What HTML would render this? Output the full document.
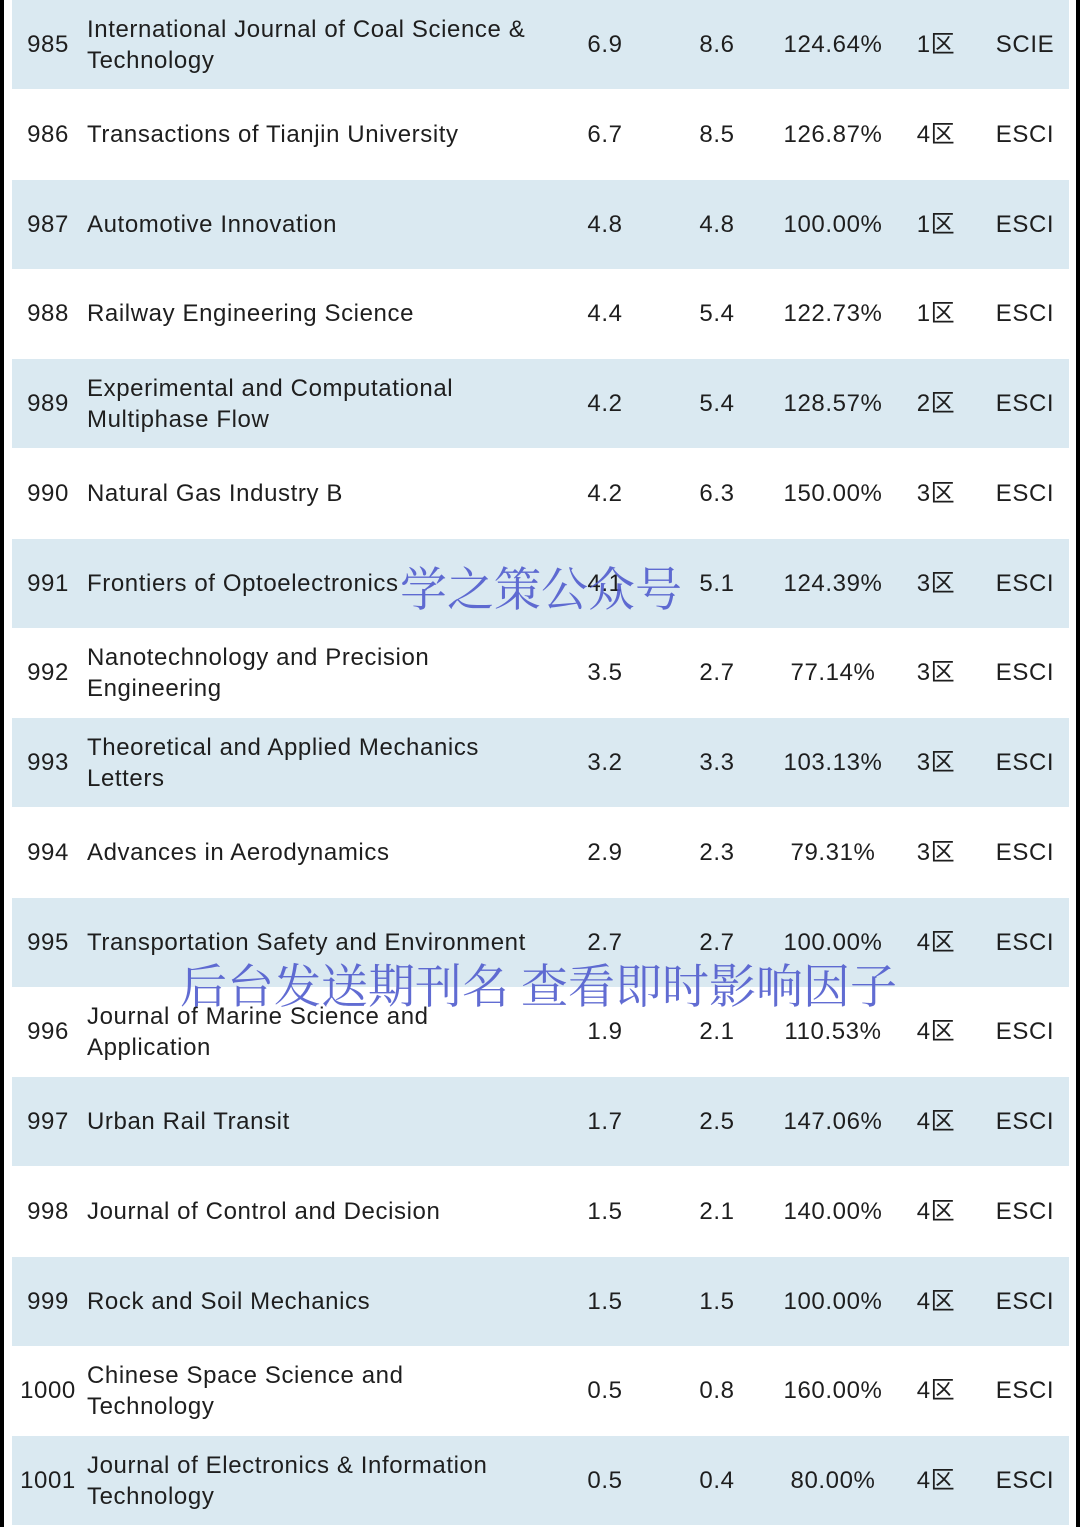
<!DOCTYPE html>
<html><head><meta charset="utf-8"><style>
body{margin:0;width:1080px;height:1527px;background:#fff;position:relative;overflow:hidden;font-family:"Liberation Sans","Noto Sans CJK SC",sans-serif;color:#1e1e1e}
.bl{position:absolute;top:0;width:4px;height:1527px;background:#000}
.row{position:absolute;left:12px;width:1057px;height:89px}
.c{position:absolute;top:0;height:89px;display:flex;align-items:center;font-size:24px;line-height:31px;letter-spacing:0.6px;white-space:nowrap}
.wm{position:absolute;font-family:"Noto Serif CJK SC",serif;color:rgba(80,92,205,0.9);white-space:nowrap}
</style></head><body>
<div class="bl" style="left:0"></div>
<div class="bl" style="left:1076px"></div>
<div id="tbl"></div>
<div class="wm" style="left:400px;top:553px;font-size:47px">学之策公众号</div>
<div class="wm" style="left:180px;top:950px;font-size:47px">后台发送期刊名 查看即时影响因子</div>
<script>
const ranks=[985,986,987,988,989,990,991,992,993,994,995,996,997,998,999,1000,1001];
const names=["International Journal of Coal Science &amp;<br>Technology","Transactions of Tianjin University","Automotive Innovation","Railway Engineering Science","Experimental and Computational<br>Multiphase Flow","Natural Gas Industry B","Frontiers of Optoelectronics","Nanotechnology and Precision<br>Engineering","Theoretical and Applied Mechanics<br>Letters","Advances in Aerodynamics","Transportation Safety and Environment","Journal of Marine Science and<br>Application","Urban Rail Transit","Journal of Control and Decision","Rock and Soil Mechanics","Chinese Space Science and<br>Technology","Journal of Electronics &amp; Information<br>Technology"];
const ifOld=["6.9","6.7","4.8","4.4","4.2","4.2","4.1","3.5","3.2","2.9","2.7","1.9","1.7","1.5","1.5","0.5","0.5"];
const ifNew=["8.6","8.5","4.8","5.4","5.4","6.3","5.1","2.7","3.3","2.3","2.7","2.1","2.5","2.1","1.5","0.8","0.4"];
const ratios=["124.64%","126.87%","100.00%","122.73%","128.57%","150.00%","124.39%","77.14%","103.13%","79.31%","100.00%","110.53%","147.06%","140.00%","100.00%","160.00%","80.00%"];
const zones=["1区","4区","1区","1区","2区","3区","3区","3区","3区","3区","4区","4区","4区","4区","4区","4区","4区"];
const idx=["SCIE","ESCI","ESCI","ESCI","ESCI","ESCI","ESCI","ESCI","ESCI","ESCI","ESCI","ESCI","ESCI","ESCI","ESCI","ESCI","ESCI"];
const tbl=document.getElementById('tbl');
function cell(row,html,left,w,align,name){
  const d=document.createElement('div');d.className='c';
  
  
  d.style.left=left+'px';d.style.width=w+'px';d.style.justifyContent=align;d.innerHTML=html;row.appendChild(d);
}
ranks.forEach((r,i)=>{
  const row=document.createElement('div');row.className='row';
  
  
  row.style.top=Math.round(i*89.75)+'px';
  row.style.background=i%2===0?'#dae9f1':'#fff';
  cell(row,r,0,72,'center','rank-cell');
  cell(row,names[i],75,500,'flex-start','journal-name-cell');
  cell(row,ifOld[i],553,80,'center','if-old-cell');
  cell(row,ifNew[i],665,80,'center','if-new-cell');
  cell(row,ratios[i],761,120,'center','ratio-cell');
  cell(row,zones[i],894,60,'center','zone-cell');
  cell(row,idx[i],973,80,'center','index-cell');
  tbl.appendChild(row);
});
</script>
</body></html>
